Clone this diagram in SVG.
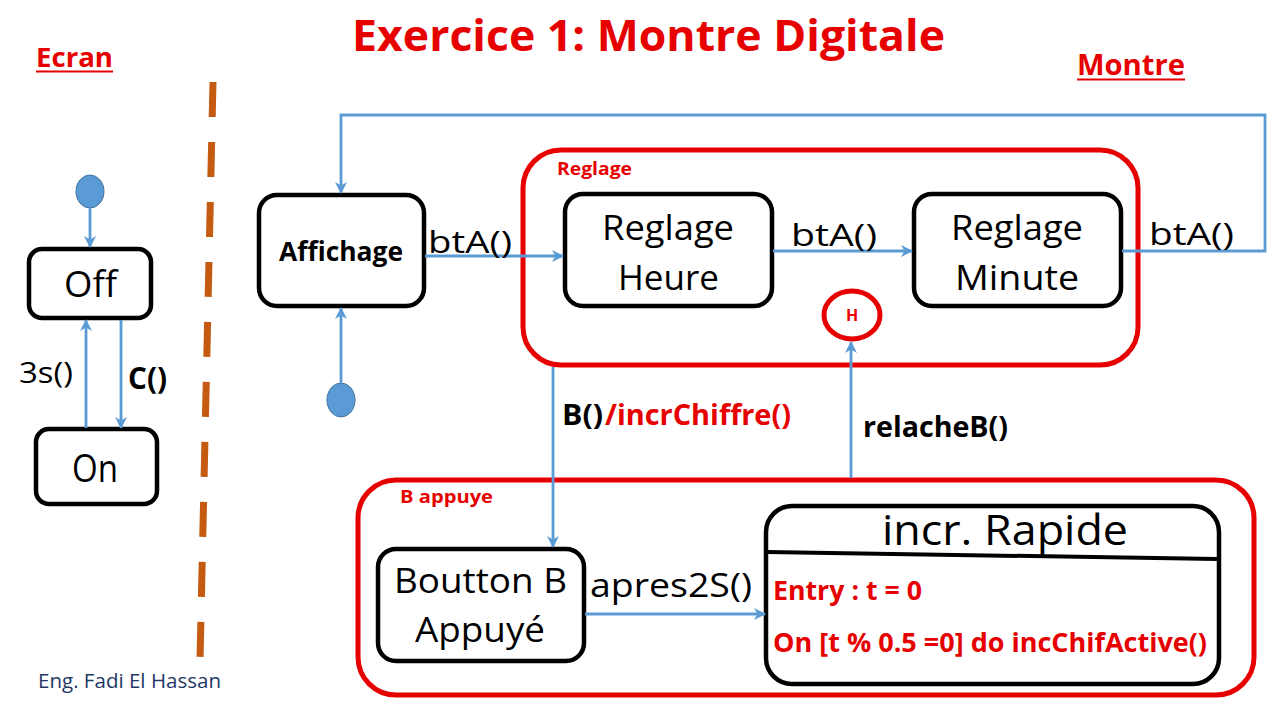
<svg xmlns="http://www.w3.org/2000/svg" width="1280" height="720" viewBox="0 0 1280 720">
<defs>
<marker id="arr" viewBox="0 0 12 12" refX="11" refY="6" markerWidth="12" markerHeight="12" markerUnits="userSpaceOnUse" orient="auto">
<path d="M0,0 L12,6 L0,12 L3.5,6 z" fill="#5B9BD5"/>
</marker>
<style>
.t{font-family:"Open Sans","Noto Sans","Liberation Sans",sans-serif;}
.b{font-weight:bold;}
.red{fill:#E60000;}
.blk{fill:#000;}
.state{fill:#fff;stroke:#000;stroke-width:4.5;}
.comp{fill:none;stroke:#E60000;stroke-width:5;}
.conn{fill:none;stroke:#5B9BD5;stroke-width:2.8;}
.init{fill:#5B9BD5;stroke:#41719C;stroke-width:1;}
</style>
</defs>
<rect width="1280" height="720" fill="#fff"/>

<g id="title">
<text class="t b red" x="352" y="51" font-size="43" textLength="593" lengthAdjust="spacingAndGlyphs">Exercice 1: Montre Digitale</text>
</g>
<g id="label-ecran">
<text class="t b red" x="36" y="67" font-size="27" textLength="77" lengthAdjust="spacingAndGlyphs">Ecran</text>
<line x1="36" y1="71.5" x2="113" y2="71.5" stroke="#E60000" stroke-width="2"/>
</g>
<g id="label-montre">
<text class="t b red" x="1077" y="75" font-size="28" textLength="108" lengthAdjust="spacingAndGlyphs">Montre</text>
<line x1="1077" y1="79.5" x2="1185" y2="79.5" stroke="#E60000" stroke-width="2"/>
</g>

<g id="separator">
<line x1="213" y1="82" x2="200" y2="660" stroke="#C55A11" stroke-width="7" stroke-dasharray="35 25"/>
</g>

<g id="author">
<text class="t" x="38" y="688" font-size="20" fill="#1F3864" textLength="183" lengthAdjust="spacingAndGlyphs">Eng. Fadi El Hassan</text>
</g>

<!-- composite states -->
<g id="reglage">
<rect class="comp" x="523" y="150" width="615" height="215" rx="38"/>
<text class="t b red" x="557" y="175" font-size="17" textLength="75" lengthAdjust="spacingAndGlyphs">Reglage</text>
</g>
<g id="b-appuye">
<rect class="comp" x="358" y="480" width="896" height="215" rx="38"/>
<text class="t b red" x="400" y="503" font-size="17" textLength="93" lengthAdjust="spacingAndGlyphs">B appuye</text>
</g>

<!-- Ecran states -->
<g id="init-ecran"><ellipse class="init" cx="90" cy="191.5" rx="14" ry="16.5"/></g>
<g id="off">
<rect class="state" x="29" y="249" width="122" height="69" rx="13"/>
<text class="t blk" x="64" y="297" font-size="37" textLength="53" lengthAdjust="spacingAndGlyphs">Off</text>
</g>
<g id="on">
<rect class="state" x="36" y="429" width="121" height="75" rx="13"/>
<text class="t blk" x="72" y="482" font-size="38" textLength="46" lengthAdjust="spacingAndGlyphs">On</text>
</g>

<!-- Montre states -->
<g id="init-montre"><ellipse class="init" cx="341" cy="400" rx="14" ry="17"/></g>
<g id="affichage">
<rect class="state" x="259" y="195" width="165" height="111" rx="18"/>
<text class="t b blk" x="279" y="261" font-size="26" textLength="124" lengthAdjust="spacingAndGlyphs">Affichage</text>
</g>
<g id="reglage-heure">
<rect class="state" x="565" y="194" width="207" height="112" rx="18"/>
<text class="t blk" x="602" y="240" font-size="35" textLength="132" lengthAdjust="spacingAndGlyphs">Reglage</text>
<text class="t blk" x="618" y="290" font-size="35" textLength="101" lengthAdjust="spacingAndGlyphs">Heure</text>
</g>
<g id="reglage-minute">
<rect class="state" x="914" y="194" width="207" height="112" rx="18"/>
<text class="t blk" x="951" y="240" font-size="35" textLength="132" lengthAdjust="spacingAndGlyphs">Reglage</text>
<text class="t blk" x="955" y="290" font-size="35" textLength="124" lengthAdjust="spacingAndGlyphs">Minute</text>
</g>
<g id="history">
<ellipse cx="852" cy="315" rx="28" ry="24" fill="#fff" stroke="#E60000" stroke-width="5"/>
<text class="t b red" x="852" y="321" font-size="16" text-anchor="middle">H</text>
</g>
<g id="boutton-b">
<rect class="state" x="378" y="549" width="206" height="112" rx="18"/>
<text class="t blk" x="394" y="593" font-size="35" textLength="173" lengthAdjust="spacingAndGlyphs">Boutton B</text>
<text class="t blk" x="415" y="642" font-size="35" textLength="130" lengthAdjust="spacingAndGlyphs">Appuyé</text>
</g>
<g id="incr-rapide">
<rect class="state" x="766" y="506" width="453" height="178" rx="26"/>
<line x1="767" y1="552" x2="1217" y2="559" stroke="#000" stroke-width="4"/>
<text class="t blk" x="882" y="545" font-size="42" textLength="246" lengthAdjust="spacingAndGlyphs">incr. Rapide</text>
<text class="t b red" x="773" y="600" font-size="27" textLength="149" lengthAdjust="spacingAndGlyphs">Entry : t = 0</text>
<text class="t b red" x="773" y="652" font-size="27" textLength="434" lengthAdjust="spacingAndGlyphs">On [t % 0.5 =0] do incChifActive()</text>
</g>

<g id="connectors">
<line class="conn" x1="90" y1="208" x2="90" y2="247" marker-end="url(#arr)"/>
<line class="conn" x1="121" y1="320" x2="121" y2="428" marker-end="url(#arr)"/>
<line class="conn" x1="86" y1="428" x2="86" y2="320" marker-end="url(#arr)"/>
<line class="conn" x1="341" y1="383" x2="341" y2="308" marker-end="url(#arr)"/>
<line class="conn" x1="425" y1="256" x2="563" y2="256" marker-end="url(#arr)"/>
<line class="conn" x1="773" y1="251" x2="912" y2="251" marker-end="url(#arr)"/>
<polyline class="conn" points="1122,251 1265,251 1265,115 341,115 341,193" marker-end="url(#arr)"/>
<line class="conn" x1="553" y1="367" x2="553" y2="547" marker-end="url(#arr)"/>
<line class="conn" x1="851" y1="478" x2="851" y2="342" marker-end="url(#arr)"/>
<line class="conn" x1="585" y1="614" x2="765" y2="614" marker-end="url(#arr)"/>
</g>

<g id="connector-labels">
<text class="t blk" x="19" y="383" font-size="30" textLength="54" lengthAdjust="spacingAndGlyphs">3s()</text>
<text class="t b blk" x="128" y="389" font-size="30" textLength="39" lengthAdjust="spacingAndGlyphs">C()</text>
<text class="t blk" x="428" y="253" font-size="31" textLength="84" lengthAdjust="spacingAndGlyphs">btA()</text>
<text class="t blk" x="791" y="246" font-size="31" textLength="86" lengthAdjust="spacingAndGlyphs">btA()</text>
<text class="t blk" x="1149" y="245" font-size="31" textLength="85" lengthAdjust="spacingAndGlyphs">btA()</text>
<text class="t b blk" x="562" y="425" font-size="29" textLength="41" lengthAdjust="spacingAndGlyphs">B()</text>
<text class="t b red" x="605" y="425" font-size="29" textLength="186" lengthAdjust="spacingAndGlyphs">/incrChiffre()</text>
<text class="t b blk" x="863" y="437" font-size="29" textLength="145" lengthAdjust="spacingAndGlyphs">relacheB()</text>
<text class="t blk" x="590" y="597" font-size="33" textLength="162" lengthAdjust="spacingAndGlyphs">apres2S()</text>
</g>
</svg>
